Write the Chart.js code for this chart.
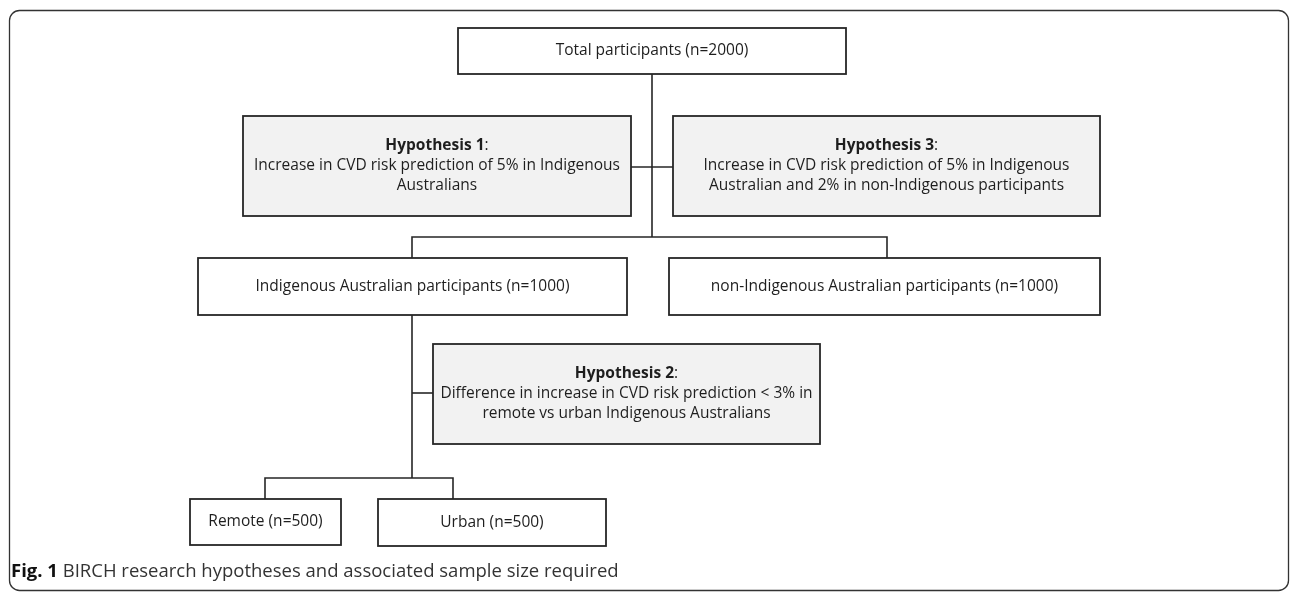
<!DOCTYPE html>
<html>
<head>
<meta charset="utf-8">
<script src="https://cdn.jsdelivr.net/npm/chart.js@4.4.1/dist/chart.umd.min.js"></script>
<style>
  html, body { margin: 0; padding: 0; background: #fff; }
  #wrap { width: 1290px; height: 592px; }
</style>
</head>
<body>
<div id="wrap"><canvas id="flow" width="1290" height="592"></canvas></div>
<script>
// node texts (first line bold for hypotheses)
const nodeTitles = ['', 'Hypothesis 1', 'Hypothesis 3', '', '', 'Hypothesis 2', '', ''];
const nodeLines = [
  ['Total participants (n=2000)'],
  ['Increase in CVD risk prediction of 5% in Indigenous', 'Australians'],
  ['Increase in CVD risk prediction of 5% in Indigenous', 'Australian and 2% in non-Indigenous participants'],
  ['Indigenous Australian participants (n=1000)'],
  ['non-Indigenous Australian participants (n=1000)'],
  ['Difference in increase in CVD risk prediction < 3% in', 'remote vs urban Indigenous Australians'],
  ['Remote (n=500)'],
  ['Urban (n=500)']
];
const nodeShaded = [false, true, true, false, false, true, false, false];
const captionBold = 'Fig. 1';
const captionText = ' BIRCH research hypotheses and associated sample size required';

// layout in scale units: [left, top, right, bottom]
const nodeBoxes = [
  [458, 28, 846, 74],
  [243, 116, 631, 216],
  [673, 116, 1100, 216],
  [198, 258, 627, 315],
  [669, 258, 1100, 315],
  [433, 344, 820, 444],
  [190, 499, 341, 545],
  [378, 499, 606, 546]
];
// connector polylines in scale units
const connectors = [
  [{x: 652, y: 74}, {x: 652, y: 237}],
  [{x: 631, y: 167}, {x: 673, y: 167}],
  [{x: 412, y: 258}, {x: 412, y: 237}, {x: 887, y: 237}, {x: 887, y: 258}],
  [{x: 412, y: 315}, {x: 412, y: 478}],
  [{x: 412, y: 393}, {x: 433, y: 393}],
  [{x: 265, y: 499}, {x: 265, y: 478}, {x: 453, y: 478}, {x: 453, y: 499}]
];

const boxFont = '15.5px "Open Sans", sans-serif';
const boxFontBold = 'bold 15.5px "Open Sans", sans-serif';

const flowPlugin = {
  id: 'flow',
  beforeDatasetsDraw(chart) {
    const { ctx, scales: { x, y } } = chart;
    ctx.save();
    // outer frame
    const fx0 = x.getPixelForValue(9), fy0 = y.getPixelForValue(10);
    const fx1 = x.getPixelForValue(1288), fy1 = y.getPixelForValue(590);
    ctx.beginPath();
    ctx.roundRect(fx0 + 0.5, fy0 + 0.5, fx1 - fx0, fy1 - fy0, 10);
    ctx.strokeStyle = '#333';
    ctx.lineWidth = 1.3;
    ctx.stroke();
    ctx.restore();
  },
  afterDatasetsDraw(chart) {
    const { ctx, scales: { x, y } } = chart;
    ctx.save();
    nodeBoxes.forEach((b, i) => {
      const l = x.getPixelForValue(b[0]), t = y.getPixelForValue(b[1]);
      const r = x.getPixelForValue(b[2]), btm = y.getPixelForValue(b[3]);
      ctx.fillStyle = nodeShaded[i] ? '#f2f2f2' : '#ffffff';
      ctx.fillRect(l, t, r - l, btm - t);
      ctx.strokeStyle = '#262626';
      ctx.lineWidth = 1.8;
      ctx.strokeRect(l, t, r - l, btm - t);

      const cx = (l + r) / 2, cy = (t + btm) / 2;
      const lines = nodeTitles[i] ? [null].concat(nodeLines[i]) : nodeLines[i];
      const lh = 20;
      const y0 = cy - (lines.length - 1) * lh / 2;
      ctx.textBaseline = 'middle';
      ctx.fillStyle = '#1e1e1e';
      lines.forEach((ln, k) => {
        const ly = y0 + k * lh;
        if (ln === null) {
          ctx.font = boxFontBold;
          const w1 = ctx.measureText(nodeTitles[i]).width;
          ctx.font = boxFont;
          const w2 = ctx.measureText(':').width;
          const sx = cx - (w1 + w2) / 2;
          ctx.textAlign = 'left';
          ctx.font = boxFontBold;
          ctx.fillText(nodeTitles[i], sx, ly);
          ctx.font = boxFont;
          ctx.fillText(':', sx + w1, ly);
        } else {
          ctx.font = boxFont;
          ctx.textAlign = 'center';
          ctx.fillText(ln, cx, ly);
        }
      });
    });

    // caption
    const capX = x.getPixelForValue(11), capY = y.getPixelForValue(572);
    ctx.textAlign = 'left';
    ctx.textBaseline = 'middle';
    ctx.font = 'bold 18.5px "Open Sans", sans-serif';
    ctx.fillStyle = '#111';
    ctx.fillText(captionBold, capX, capY);
    const bw = ctx.measureText(captionBold).width;
    ctx.font = '18.5px "Open Sans", sans-serif';
    ctx.fillStyle = '#333';
    ctx.fillText(captionText, capX + bw, capY);
    ctx.restore();
  }
};

new Chart(document.getElementById('flow'), {
  type: 'scatter',
  data: {
    datasets: connectors.map(pts => ({
      data: pts,
      showLine: true,
      borderColor: '#262626',
      borderWidth: 1.6,
      pointRadius: 0,
      fill: false,
      tension: 0
    }))
  },
  options: {
    responsive: false,
    animation: false,
    layout: { padding: 0 },
    plugins: { legend: { display: false }, tooltip: { enabled: false } },
    scales: {
      x: { type: 'linear', min: 0, max: 1290, display: false },
      y: { type: 'linear', min: 0, max: 592, reverse: true, display: false }
    }
  },
  plugins: [flowPlugin]
});
</script>
</body>
</html>
